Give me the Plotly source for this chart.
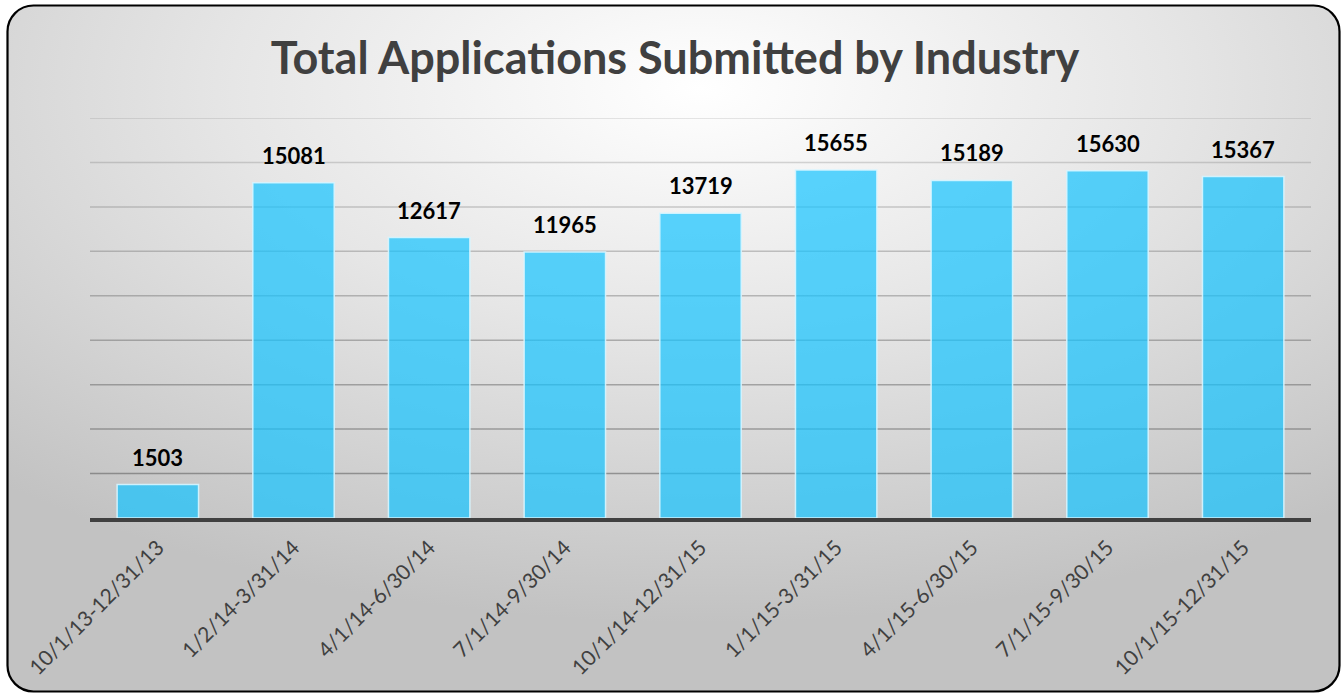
import base64
import plotly.graph_objects as go

categories = ["10/1/13-12/31/13", "1/2/14-3/31/14", "4/1/14-6/30/14", "7/1/14-9/30/14",
              "10/1/14-12/31/15", "1/1/15-3/31/15", "4/1/15-6/30/15", "7/1/15-9/30/15",
              "10/1/15-12/31/15"]
applications = [1503, 15081, 12617, 11965, 13719, 15655, 15189, 15630, 15367]
grid_values = [2000, 4000, 6000, 8000, 10000, 12000, 14000, 16000, 18000]

W, H = 1344, 696

svg = f'''<svg xmlns="http://www.w3.org/2000/svg" width="{W}" height="{H}" viewBox="0 0 {W} {H}">
<defs><radialGradient id="g" cx="0.52" cy="0.12" r="0.78" gradientUnits="objectBoundingBox" fx="0.52" fy="0.12">
<stop offset="0" stop-color="#ffffff"/><stop offset="0.45" stop-color="#e6e6e6"/><stop offset="1" stop-color="#c2c2c2"/></radialGradient></defs>
<rect x="7.5" y="5.5" width="1332" height="686" rx="26" ry="26" fill="url(#g)" stroke="#000" stroke-width="2.2"/>
</svg>'''
src = "data:image/svg+xml;base64," + base64.b64encode(svg.encode()).decode()

FONT = "Lato"

fig = go.Figure()
fig.add_trace(go.Bar(
    x=categories, y=applications, width=0.6,
    marker=dict(color="rgba(20,195,255,0.7)", line=dict(color="rgba(215,245,255,0.9)", width=1.5)),
    hoverinfo="x+y",
))

for c, v in zip(categories, applications):
    fig.add_annotation(x=c, y=v, text=f"<b>{v}</b>", showarrow=False, yanchor="bottom",
                       yshift=12, font=dict(family=FONT, size=22, color="#000000"))

for i, g in enumerate(grid_values):
    alpha = 0.55 - 0.045 * i
    fig.add_shape(type="line", xref="paper", yref="y", x0=90 / W, x1=1311 / W, y0=g, y1=g,
                  line=dict(color=f"rgba(90,90,90,{alpha:.3f})", width=1.5), layer="below")

fig.update_layout(
    width=W, height=H,
    margin=dict(l=0, r=0, t=0, b=0, autoexpand=False),
    paper_bgcolor="white", plot_bgcolor="rgba(0,0,0,0)",
    showlegend=False,
    title=dict(text="<b>Total Applications Submitted by Industry</b>", x=675 / W, xanchor="center",
               y=1 - 58 / H, yanchor="middle",
               font=dict(family=FONT, size=45, color="#404040")),
    images=[dict(source=src, xref="paper", yref="paper", x=0, y=1, sizex=1, sizey=1,
                 xanchor="left", yanchor="top", sizing="stretch", layer="below")],
    xaxis=dict(domain=[90 / W, 1311 / W], showgrid=False, showline=True, linecolor="#404040",
               linewidth=4, ticks="", tickangle=-45, automargin=False, ticklabelstandoff=5,
               tickfont=dict(family=FONT, size=21, color="#404040")),
    yaxis=dict(domain=[(H - 518) / H, (H - 118) / H], range=[0, 18000], showgrid=False,
               showticklabels=False, zeroline=False, showline=False, automargin=False),
)

fig.write_html("out.html", config={"displayModeBar": False},
               post_script="document.body.style.margin='0';document.body.style.overflow='hidden';")
